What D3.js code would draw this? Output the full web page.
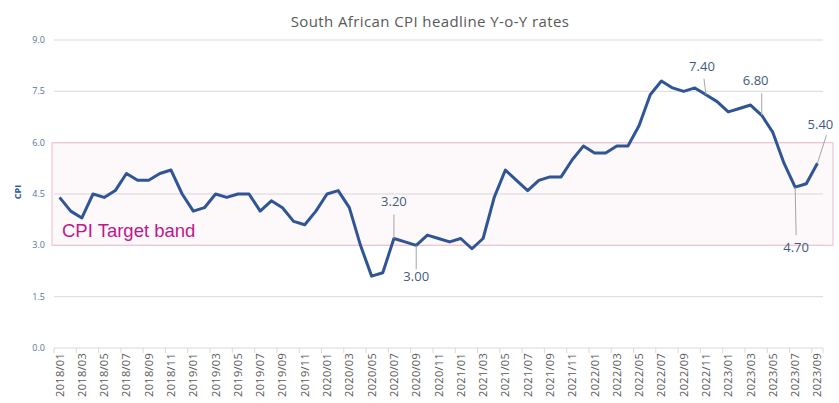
<!DOCTYPE html>
<html>
<head>
<meta charset="utf-8">
<script src="https://cdn.jsdelivr.net/npm/d3@7"></script>
<style>
  body { margin: 0; background: #fff; }
  svg { display: block; }
</style>
</head>
<body>
<div id="chart"></div>
<script>
const width = 839;
const height = 403;
const margin = { top: 40, right: 16, bottom: 55, left: 54 };

// monthly headline CPI, year-on-year %
const years = [2018, 2019, 2020, 2021, 2022, 2023];
const cpi = [
  4.4, 4.0, 3.8, 4.5, 4.4, 4.6, 5.1, 4.9, 4.9, 5.1, 5.2, 4.5,
  4.0, 4.1, 4.5, 4.4, 4.5, 4.5, 4.0, 4.3, 4.1, 3.7, 3.6, 4.0,
  4.5, 4.6, 4.1, 3.0, 2.1, 2.2, 3.2, 3.1, 3.0, 3.3, 3.2, 3.1,
  3.2, 2.9, 3.2, 4.4, 5.2, 4.9, 4.6, 4.9, 5.0, 5.0, 5.5, 5.9,
  5.7, 5.7, 5.9, 5.9, 6.5, 7.4, 7.8, 7.6, 7.5, 7.6, 7.4, 7.2,
  6.9, 7.0, 7.1, 6.8, 6.3, 5.4, 4.7, 4.8, 5.4
];
const months = cpi.map((d, i) => years[Math.floor(i / 12)] + '/' + String(i % 12 + 1).padStart(2, '0'));
const yTicks = [0, 1.5, 3.0, 4.5, 6.0, 7.5, 9.0];
const band = [3.0, 6.0];

// labelled points: month, text, leader end offset [dx, dy], text offset
const callouts = [
  { month: '2020/07', text: '3.20', lead: [0, -24], pos: [0, -32] },
  { month: '2020/09', text: '3.00', lead: [0, 24], pos: [0, 36] },
  { month: '2022/11', text: '7.40', lead: [-2, -16], pos: [-4, -24] },
  { month: '2023/04', text: '6.80', lead: [0, -22], pos: [-6, -30] },
  { month: '2023/07', text: '4.70', lead: [1, 48], pos: [1, 65] },
  { month: '2023/09', text: '5.40', lead: [9, -28], pos: [3, -34] }
];

const svg = d3.select('#chart').append('svg')
  .attr('width', width)
  .attr('height', height);

const x = d3.scaleBand()
  .domain(months)
  .range([margin.left, width - margin.right]);

const y = d3.scaleLinear()
  .domain([0, 9])
  .range([height - margin.bottom, margin.top]);

const cx = (m) => x(m) + x.bandwidth() / 2;

// title
svg.append('text')
  .attr('x', 430)
  .attr('y', 27)
  .attr('text-anchor', 'middle')
  .attr('fill', '#595959')
  .style('font-family', 'Open Sans, sans-serif')
  .style('font-size', '15px')
  .style('letter-spacing', '0.4px')
  .text('South African CPI headline Y-o-Y rates');

// gridlines
svg.append('g')
  .selectAll('line')
  .data(yTicks)
  .join('line')
  .attr('x1', margin.left)
  .attr('x2', width - margin.right)
  .attr('y1', (d) => y(d))
  .attr('y2', (d) => y(d))
  .attr('stroke', '#d9d9d9')
  .attr('stroke-width', 1);

// target band
svg.append('rect')
  .attr('x', margin.left - 2)
  .attr('y', y(band[1]))
  .attr('width', width - margin.left - 4)
  .attr('height', y(band[0]) - y(band[1]))
  .attr('fill', '#e8a0c0')
  .attr('fill-opacity', 0.08)
  .attr('stroke', '#efc6d6')
  .attr('stroke-width', 1.2);

svg.append('text')
  .attr('x', 62)
  .attr('y', 237)
  .attr('fill', '#c0168c')
  .style('font-family', 'Liberation Sans, Arial, sans-serif')
  .style('font-size', '18.5px')
  .text('CPI Target band');

// y axis labels
svg.append('g')
  .selectAll('text')
  .data(yTicks)
  .join('text')
  .attr('x', 45)
  .attr('y', (d) => y(d) + 3)
  .attr('text-anchor', 'end')
  .attr('fill', '#5a739b')
  .style('font-family', 'Open Sans, sans-serif')
  .style('font-size', '9px')
  .text((d) => d.toFixed(1));

svg.append('text')
  .attr('transform', `translate(21,${y(4.5) - 2}) rotate(-90)`)
  .attr('text-anchor', 'middle')
  .attr('fill', '#2f5597')
  .style('font-family', 'Open Sans, sans-serif')
  .style('font-size', '9px')
  .style('font-weight', 'bold')
  .text('CPI');

// x axis: tick marks at category edges every 2 months
const every2 = months.filter((d, i) => i % 2 === 0);
svg.append('g')
  .selectAll('line')
  .data(every2.concat(['end']))
  .join('line')
  .attr('x1', (d) => d === 'end' ? width - margin.right : x(d))
  .attr('x2', (d) => d === 'end' ? width - margin.right : x(d))
  .attr('y1', y(0))
  .attr('y2', y(0) + 5)
  .attr('stroke', '#d9d9d9');

svg.append('g')
  .selectAll('text')
  .data(every2)
  .join('text')
  .attr('transform', (d) => `translate(${cx(d) + 4},${y(0) + 5}) rotate(-90)`)
  .attr('text-anchor', 'end')
  .attr('fill', '#595959')
  .style('font-family', 'Open Sans, sans-serif')
  .style('font-size', '11px')
  .style('letter-spacing', '0.3px')
  .text((d) => d);

// line
const line = d3.line()
  .x((d, i) => cx(months[i]))
  .y((d) => y(d));

svg.append('path')
  .datum(cpi)
  .attr('d', line)
  .attr('fill', 'none')
  .attr('stroke', '#2f5597')
  .attr('stroke-width', 3)
  .attr('stroke-linejoin', 'round');

// data callouts
const cg = svg.append('g');
callouts.forEach((c) => {
  const px = cx(c.month);
  const py = y(cpi[months.indexOf(c.month)]);
  cg.append('line')
    .attr('x1', px)
    .attr('y1', py)
    .attr('x2', px + c.lead[0])
    .attr('y2', py + c.lead[1])
    .attr('stroke', '#a6a6a6')
    .attr('stroke-width', 1);
  cg.append('text')
    .attr('x', px + c.pos[0])
    .attr('y', py + c.pos[1])
    .attr('text-anchor', 'middle')
    .attr('fill', '#3f5a83')
    .style('font-family', 'Open Sans, sans-serif')
    .style('font-size', '13px')
    .text(c.text);
});
</script>
</body>
</html>
